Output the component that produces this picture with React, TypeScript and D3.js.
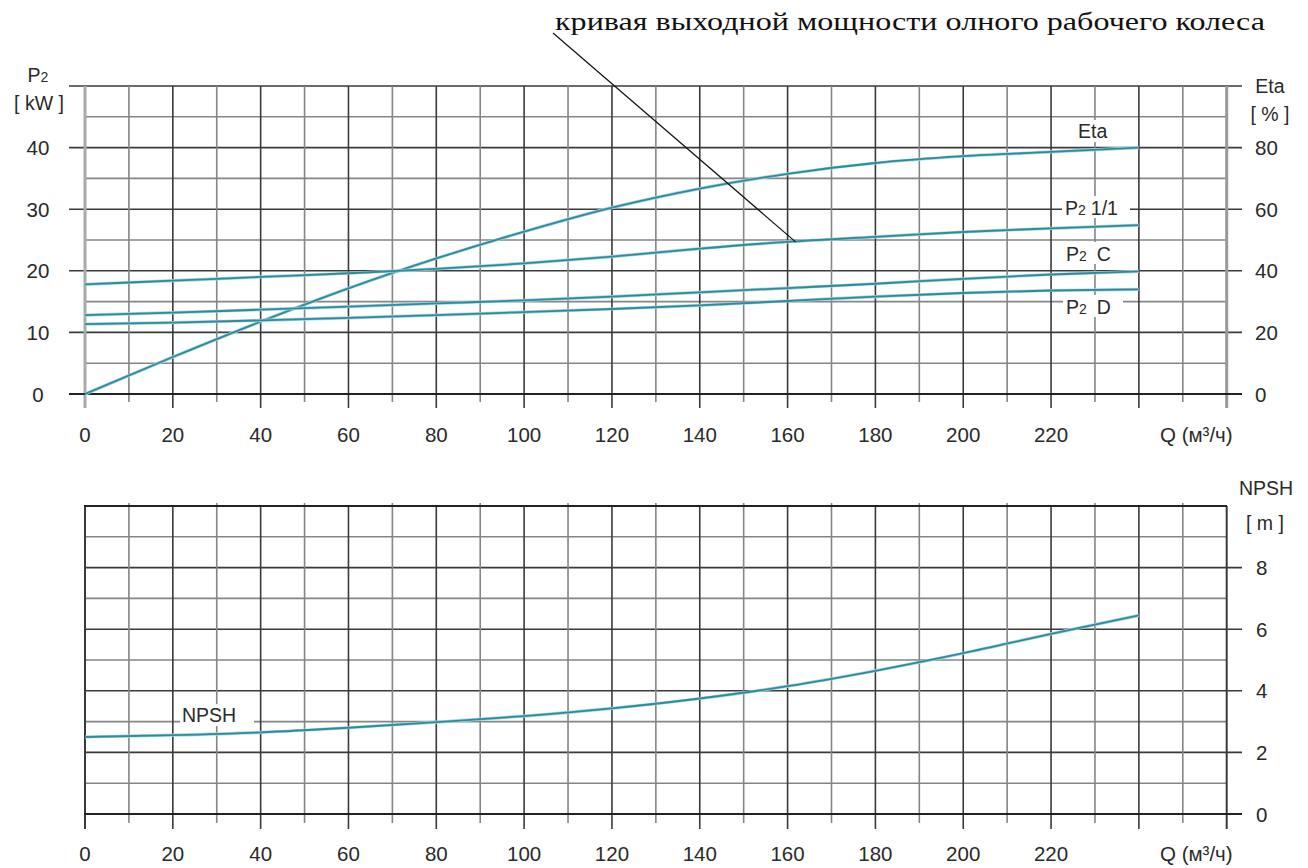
import React from "react";
import * as d3 from "d3";

const flowQ = [0, 20, 40, 60, 80, 100, 120, 140, 160, 180, 200, 220, 240];
const etaValues = [0, 12, 23.5, 34.3, 44, 52.7, 60.5, 66.7, 71.5, 75, 77.2, 78.6, 80];
const p2FullValues = [17.8, 18.4, 19.0, 19.6, 20.3, 21.2, 22.3, 23.6, 24.7, 25.5, 26.3, 26.9, 27.4];
const p2CValues = [12.8, 13.2, 13.7, 14.2, 14.7, 15.2, 15.8, 16.5, 17.2, 17.9, 18.7, 19.4, 19.9];
const p2DValues = [11.35, 11.6, 11.95, 12.35, 12.8, 13.3, 13.8, 14.4, 15.1, 15.8, 16.4, 16.8, 17.0];
const npshValues = [2.5, 2.56, 2.65, 2.8, 2.98, 3.18, 3.43, 3.75, 4.15, 4.65, 5.22, 5.85, 6.45];

const xTickLabels = [0, 20, 40, 60, 80, 100, 120, 140, 160, 180, 200, 220];
const p2TickLabels = [0, 10, 20, 30, 40];
const etaTickLabels = [0, 20, 40, 60, 80];
const npshTickLabels = [0, 2, 4, 6, 8];

const annotationText = "кривая выходной мощности олного рабочего колеса";
const annotationQ = 160;

const CURVE = "#2a8c9e";
const DARK = "#3a3a3a";
const LIGHT = "#858585";
const TXT = "#2a2a2a";
const FONT = "'Liberation Sans', Arial, sans-serif";
const TICK_FS = 20.5;
const LAB_FS = 19.5;

export default function App() {
  const x = d3.scaleLinear().domain([0, 260]).range([85, 1226.7]);
  const yP = d3.scaleLinear().domain([0, 50]).range([394, 86]);
  const yEta = d3.scaleLinear().domain([0, 100]).range([394, 86]);
  const yN = d3.scaleLinear().domain([0, 10]).range([814, 506]);

  const lineGen = (ys: d3.ScaleLinear<number, number>, vals: number[]) =>
    d3
      .line<number>()
      .x((_, i) => x(flowQ[i]))
      .y((v) => ys(v))
      .curve(d3.curveMonotoneX)(vals) || "";

  const vLines = d3.range(0, 261, 10);
  const hTop = d3.range(0, 51, 5);
  const hBot = d3.range(0, 11, 1);

  const annY = yP(p2FullValues[flowQ.indexOf(annotationQ)]);

  const label = (lx: number, ly: number, sub: string, rest: string, gap: number, w: number) => (
    <g>
      <rect x={lx - 3} y={ly - 12} width={w} height={22} fill="white" />
      <text x={lx} y={ly + 7} fontSize={LAB_FS} fontFamily={FONT} fill={TXT}>
        P
        <tspan fontSize={14}>{sub}</tspan>
        <tspan dx={gap}>{rest}</tspan>
      </text>
    </g>
  );

  return (
    <svg
      width={1308}
      height={868}
      style={{ position: "absolute", left: 0, top: 0, background: "white" }}
    >
      {/* ===== Top chart grid ===== */}
      {hTop.map((v) => (
        <line
          key={"ht" + v}
          x1={v % 10 === 0 ? 69 : 85}
          x2={v % 10 === 0 ? 1242 : 1226.7}
          y1={yP(v)}
          y2={yP(v)}
          stroke={v % 10 === 0 ? DARK : LIGHT}
          strokeWidth={1.6}
        />
      ))}
      {vLines.map((v) => (
        <line
          key={"vt" + v}
          x1={x(v)}
          x2={x(v)}
          y1={yP(50)}
          y2={v % 20 === 0 ? 408 : 402}
          stroke={v === 0 ? "#aaa" : v === 260 ? "#999" : v % 20 === 0 ? DARK : LIGHT}
          strokeWidth={v === 0 || v === 260 ? 3 : 1.6}
        />
      ))}
      <line x1={69} x2={1242} y1={yP(0)} y2={yP(0)} stroke="#222" strokeWidth={1.8} />

      {/* ===== Bottom chart grid ===== */}
      {hBot.map((v) => (
        <line
          key={"hb" + v}
          x1={85}
          x2={v % 2 === 0 && v !== 10 ? 1242 : 1226.7}
          y1={yN(v)}
          y2={yN(v)}
          stroke={v % 2 === 0 ? DARK : LIGHT}
          strokeWidth={1.6}
        />
      ))}
      {vLines.map((v) => (
        <line
          key={"vb" + v}
          x1={x(v)}
          x2={x(v)}
          y1={v % 20 === 0 ? yN(10) : 503}
          y2={v % 20 === 0 ? 829 : 823}
          stroke={v % 20 === 0 || v === 260 ? DARK : LIGHT}
          strokeWidth={v === 0 || v === 260 ? 2 : 1.6}
        />
      ))}
      <line x1={84} x2={1242} y1={yN(0)} y2={yN(0)} stroke="#222" strokeWidth={1.8} />
      <line x1={84} x2={1227} y1={yN(10)} y2={yN(10)} stroke="#222" strokeWidth={1.8} />

      {/* ===== Curves ===== */}
      {[
        lineGen(yEta, etaValues),
        lineGen(yP, p2FullValues),
        lineGen(yP, p2CValues),
        lineGen(yP, p2DValues),
        lineGen(yN, npshValues),
      ].map((d, i) => (
        <g key={"c" + i}>
          <path d={d} fill="none" stroke="#a9d3dc" strokeWidth={3.2} />
          <path d={d} fill="none" stroke={CURVE} strokeWidth={1.8} />
        </g>
      ))}

      {/* ===== Curve labels ===== */}
      <rect x={1076} y={120} width={40} height={22} fill="white" />
      <text x={1078} y={138} fontSize={LAB_FS} fontFamily={FONT} fill={TXT}>
        Eta
      </text>
      {label(1065, 208, "2", "1/1", 5, 68)}
      {label(1066, 254, "2", "C", 10, 60)}
      {label(1066, 307, "2", "D", 10, 60)}
      <rect x={180} y={704} width={74} height={22} fill="white" />
      <text x={182} y={722} fontSize={LAB_FS} fontFamily={FONT} fill={TXT}>
        NPSH
      </text>

      {/* ===== Axis labels: top ===== */}
      {p2TickLabels.map((v) => (
        <text key={"pl" + v} x={38} y={yP(v) + 7.5} fontSize={TICK_FS} fontFamily={FONT} fill={TXT} textAnchor="middle">
          {v}
        </text>
      ))}
      {etaTickLabels.map((v) => (
        <text key={"el" + v} x={1255} y={yEta(v) + 7.5} fontSize={TICK_FS} fontFamily={FONT} fill={TXT}>
          {v}
        </text>
      ))}
      {xTickLabels.map((v) => (
        <text key={"xt" + v} x={x(v)} y={442} fontSize={TICK_FS} fontFamily={FONT} fill={TXT} textAnchor="middle">
          {v}
        </text>
      ))}
      <text x={1160} y={442} fontSize={TICK_FS} fontFamily={FONT} fill={TXT}>
        Q (м³/ч)
      </text>
      <text x={38} y={82} fontSize={LAB_FS} fontFamily={FONT} fill={TXT} textAnchor="middle">
        P<tspan fontSize={14}>2</tspan>
      </text>
      <text x={39} y={110} fontSize={LAB_FS} fontFamily={FONT} fill={TXT} textAnchor="middle">
        [ kW ]
      </text>
      <text x={1270} y={93} fontSize={LAB_FS} fontFamily={FONT} fill={TXT} textAnchor="middle">
        Eta
      </text>
      <text x={1270} y={121} fontSize={LAB_FS} fontFamily={FONT} fill={TXT} textAnchor="middle">
        [ % ]
      </text>

      {/* ===== Axis labels: bottom ===== */}
      {npshTickLabels.map((v) => (
        <text key={"nl" + v} x={1256} y={yN(v) + 7.5} fontSize={TICK_FS} fontFamily={FONT} fill={TXT}>
          {v}
        </text>
      ))}
      {xTickLabels.map((v) => (
        <text key={"xb" + v} x={x(v)} y={861} fontSize={TICK_FS} fontFamily={FONT} fill={TXT} textAnchor="middle">
          {v}
        </text>
      ))}
      <text x={1160} y={861} fontSize={TICK_FS} fontFamily={FONT} fill={TXT}>
        Q (м³/ч)
      </text>
      <text x={1266} y={495} fontSize={LAB_FS} fontFamily={FONT} fill={TXT} textAnchor="middle">
        NPSH
      </text>
      <text x={1265} y={530} fontSize={LAB_FS} fontFamily={FONT} fill={TXT} textAnchor="middle">
        [ m ]
      </text>

      {/* ===== Annotation ===== */}
      <text
        x={555}
        y={30}
        fontSize={25}
        fontFamily="'Liberation Serif', 'Times New Roman', serif"
        fill="#111"
        textLength={710}
        lengthAdjust="spacingAndGlyphs"
      >
        {annotationText}
      </text>
      <line x1={553} y1={33} x2={x(annotationQ) + 8} y2={annY} stroke="#111" strokeWidth={1.2} />
    </svg>
  );
}
